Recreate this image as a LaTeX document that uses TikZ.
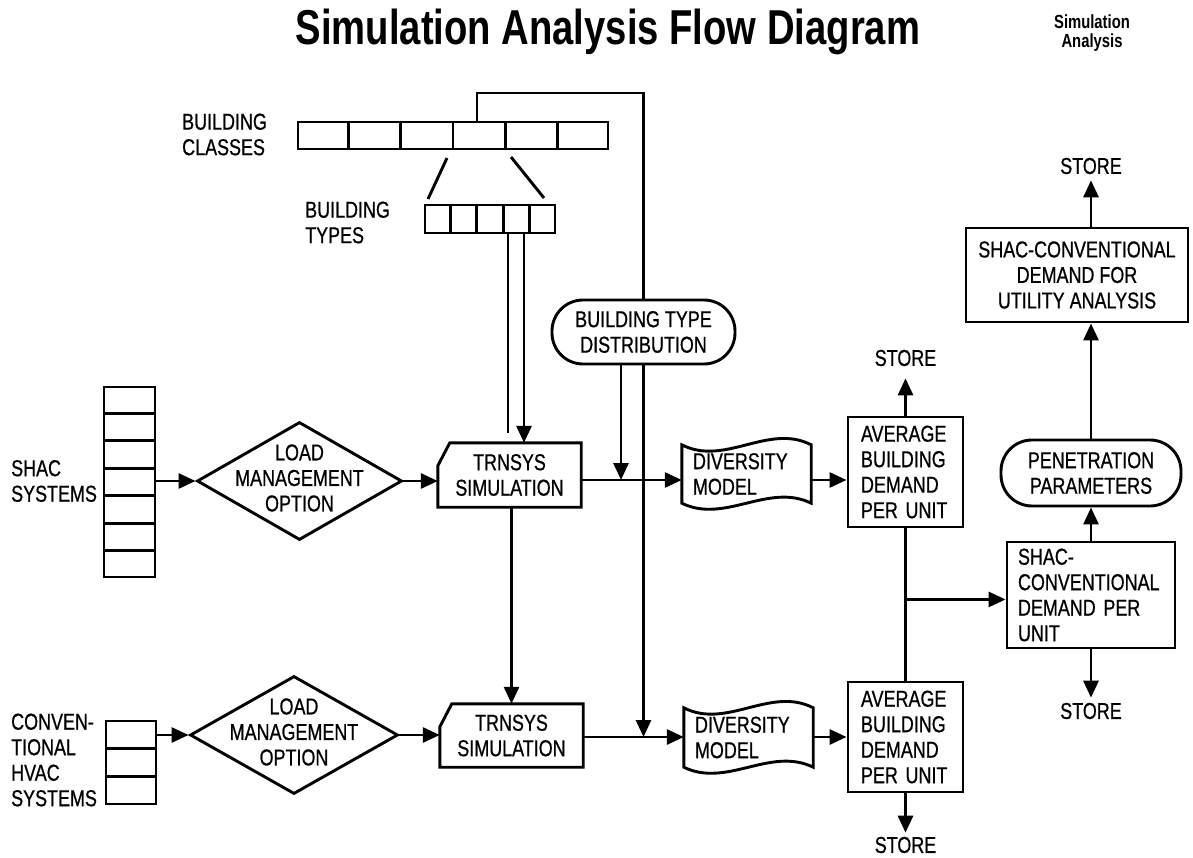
\documentclass[tikz,border=0pt]{standalone}
\usepackage{fontspec}
\setmainfont{Liberation Sans}[FakeStretch=0.78]
\newfontfamily\lettering{Liberation Sans}[FakeStretch=0.78, FakeBold=0.7]
\usetikzlibrary{arrows.meta,shapes.geometric,calc}

\begin{document}
\begin{tikzpicture}[x=1pt,y=-1pt,
  every node/.style={font=\lettering\fontsize{23}{25.5}\selectfont, inner sep=0pt},
  ln/.style={line width=2.9pt},
  arr/.style={ln, -{Triangle[length=17pt,width=15pt]}},
  bar/.style={draw, ln, rectangle},
  box/.style={draw, ln, rectangle},
  stadium/.style={draw, ln, rectangle, rounded corners=31pt, align=center},
  dia/.style={draw, ln, diamond},
  lbl/.style={align=left}]

\fill[white] (0,0) rectangle (1193,858);
\useasboundingbox (0,0) rectangle (1193,858);

% headings
\node[font=\rmfamily\fontsize{49}{52}\selectfont\bfseries, anchor=base] (title) at (608,45) {Simulation Analysis Flow Diagram};
\node[font=\rmfamily\fontsize{19}{19}\selectfont\bfseries, align=center] (sub) at (1092,33) {Simulation\\Analysis};

% building classes and building types
\node[bar, minimum width=310pt, minimum height=27pt] (classbar) at (453,135.5) {};
\foreach \i in {1,...,5}
  \draw[ln] ($(classbar.north west)!\i/6!(classbar.north east)$) -- ($(classbar.south west)!\i/6!(classbar.south east)$);
\node[lbl, anchor=west] (classlbl) at (182,134.5) {BUILDING\\CLASSES};

\node[bar, minimum width=130pt, minimum height=28pt] (typebar) at (490,219) {};
\foreach \i in {1,...,4}
  \draw[ln] ($(typebar.north west)!\i/5!(typebar.north east)$) -- ($(typebar.south west)!\i/5!(typebar.south east)$);
\node[lbl, anchor=west] (typelbl) at (305,222.5) {BUILDING\\TYPES};

\coordinate (fanL1) at (447,158);
\coordinate (fanL2) at (428,199);
\coordinate (fanR1) at (511,157);
\coordinate (fanR2) at (544,198);
\draw[ln] (fanL1) -- (fanL2);
\draw[ln] (fanR1) -- (fanR2);

\node[stadium, minimum width=183pt, minimum height=64pt] (btd) at (643.5,332) {BUILDING TYPE\\DISTRIBUTION};
\coordinate (tap) at (477,122);
\draw[ln] (tap) -- ++(0,-29) -| (btd.north);

% SHAC row
\node[bar, minimum width=51pt, minimum height=190pt] (shacbar) at (129.5,482) {};
\foreach \i in {1,...,6}
  \draw[ln] ($(shacbar.north west)!\i/7!(shacbar.south west)$) -- ($(shacbar.north east)!\i/7!(shacbar.south east)$);
\node[lbl, anchor=west] (shaclbl) at (11,481) {SHAC\\SYSTEMS};

\node[dia, minimum width=205pt, minimum height=118pt] (dia1) at (299.5,481) {};
\node[align=center] (dia1txt) at (299.5,478) {LOAD\\MANAGEMENT\\OPTION};

\node[align=center, minimum width=143pt, minimum height=64pt] (trn1) at (509.5,475) {TRNSYS\\SIMULATION};
\draw[ln] ([xshift=12pt]trn1.north west) -- (trn1.north east) -- (trn1.south east) -- (trn1.south west) -- ([yshift=-23pt]trn1.north west) -- cycle;

\node[text width=107pt, inner xsep=11pt, minimum height=58pt, align=left] (div1) at (746.5,474) {DIVERSITY\\MODEL};
\draw[ln] (div1.north west) .. controls +(43,22) and +(-43,-22) .. (div1.north east) -- (div1.south east)
  .. controls +(-43,-21) and +(43,21) .. (div1.south west) -- cycle;

\node[box, text width=89pt, inner xsep=13pt, minimum height=110pt, align=left] (avg1) at (905.5,472) {AVERAGE\\BUILDING\\DEMAND\\PER UNIT};
\node (store1) at (905.5,358) {STORE};

% conventional row
\node[bar, minimum width=50pt, minimum height=83pt] (convbar) at (131,762.5) {};
\foreach \i in {1,2}
  \draw[ln] ($(convbar.north west)!\i/3!(convbar.south west)$) -- ($(convbar.north east)!\i/3!(convbar.south east)$);
\node[lbl, anchor=west] (convlbl) at (11,760) {CONVEN-\\TIONAL\\HVAC\\SYSTEMS};

\node[dia, minimum width=208pt, minimum height=118pt] (dia2) at (294,735) {};
\node[align=center] (dia2txt) at (294,732) {LOAD\\MANAGEMENT\\OPTION};

\node[align=center, minimum width=143pt, minimum height=63pt] (trn2) at (511.5,735.5) {TRNSYS\\SIMULATION};
\draw[ln] ([xshift=12pt]trn2.north west) -- (trn2.north east) -- (trn2.south east) -- (trn2.south west) -- ([yshift=-23pt]trn2.north west) -- cycle;

\node[text width=107pt, inner xsep=11pt, minimum height=59pt, align=left] (div2) at (748.5,737.5) {DIVERSITY\\MODEL};
\draw[ln] (div2.north west) .. controls +(43,22) and +(-43,-22) .. (div2.north east) -- (div2.south east)
  .. controls +(-43,-21) and +(43,21) .. (div2.south west) -- cycle;

\node[box, text width=89pt, inner xsep=13pt, minimum height=110pt, align=left] (avg2) at (905.5,737) {AVERAGE\\BUILDING\\DEMAND\\PER UNIT};
\node (store2) at (905.5,845) {STORE};

% right-hand column
\node[box, text width=146pt, inner xsep=11pt, minimum height=106pt, align=left] (sc) at (1091,595) {SHAC-\\CONVENTIONAL\\DEMAND PER\\UNIT};
\node (store3) at (1091,711) {STORE};
\node[stadium, minimum width=180pt, minimum height=66pt] (pen) at (1091,473) {PENETRATION\\PARAMETERS};
\node[box, minimum width=222pt, minimum height=94pt, align=center] (util) at (1077,275) {SHAC-CONVENTIONAL\\DEMAND FOR\\UTILITY ANALYSIS};
\node (store4) at (1091,166) {STORE};

% connectors, SHAC row
\coordinate (row1) at (0,480);
\coordinate (row2) at (0,737);
\draw[arr] (dia1.west -| shacbar.east) -- (dia1.west);
\draw[arr] (dia1.east) -- (dia1.east -| trn1.west);
\draw[arr] (trn1.east |- row1) -- (div1.west |- row1);
\draw[arr] (div1.east |- row1) -- (avg1.west |- row1);
\draw[arr, shorten >=12pt] (avg1.north) -- (store1.south);

% building types feed
\path (typebar.south) ++(18,0) coordinate (tA);
\path (typebar.south) ++(34,0) coordinate (tB);
\draw[ln] (tA) -- ++(0,199) coordinate (tAend);
\draw[arr] (tB) -- (tB |- trn1.north);

% building type distribution feeds
\path (btd.south) ++(-22.5,0) coordinate (bA);
\draw[arr] (bA) -- (bA |- row1);
\draw[arr] (btd.south) -- (btd.south |- row2);

% TRNSYS to TRNSYS
\draw[arr] (trn1.south -| trn2.north) -- (trn2.north);

% connectors, conventional row
\draw[arr] (dia2.west -| convbar.east) -- (dia2.west);
\draw[arr] (dia2.east) -- (dia2.east -| trn2.west);
\draw[arr] (trn2.east |- row2) -- (div2.west |- row2);
\draw[arr] (div2.east |- row2) -- (avg2.west |- row2);
\draw[arr, shorten >=4pt] (avg2.south) -- (store2.north);

% combination of both averages
\draw[ln] (avg1.south) -- (avg1.south |- avg2.north);
\path (avg1.south) ++(0,71) coordinate (jn);
\draw[arr] (jn) -- (jn -| sc.west);

% right-hand column connectors
\draw[arr] (sc.north) -- (sc.north |- pen.south);
\draw[arr, shorten >=5pt] (sc.south) -- (store3.north);
\draw[arr] (pen.north) -- (pen.north |- util.south);
\path (pen.north |- util.north) coordinate (uTop);
\draw[arr, shorten >=6pt] (uTop) -- (store4.south);

\end{tikzpicture}
\end{document}
